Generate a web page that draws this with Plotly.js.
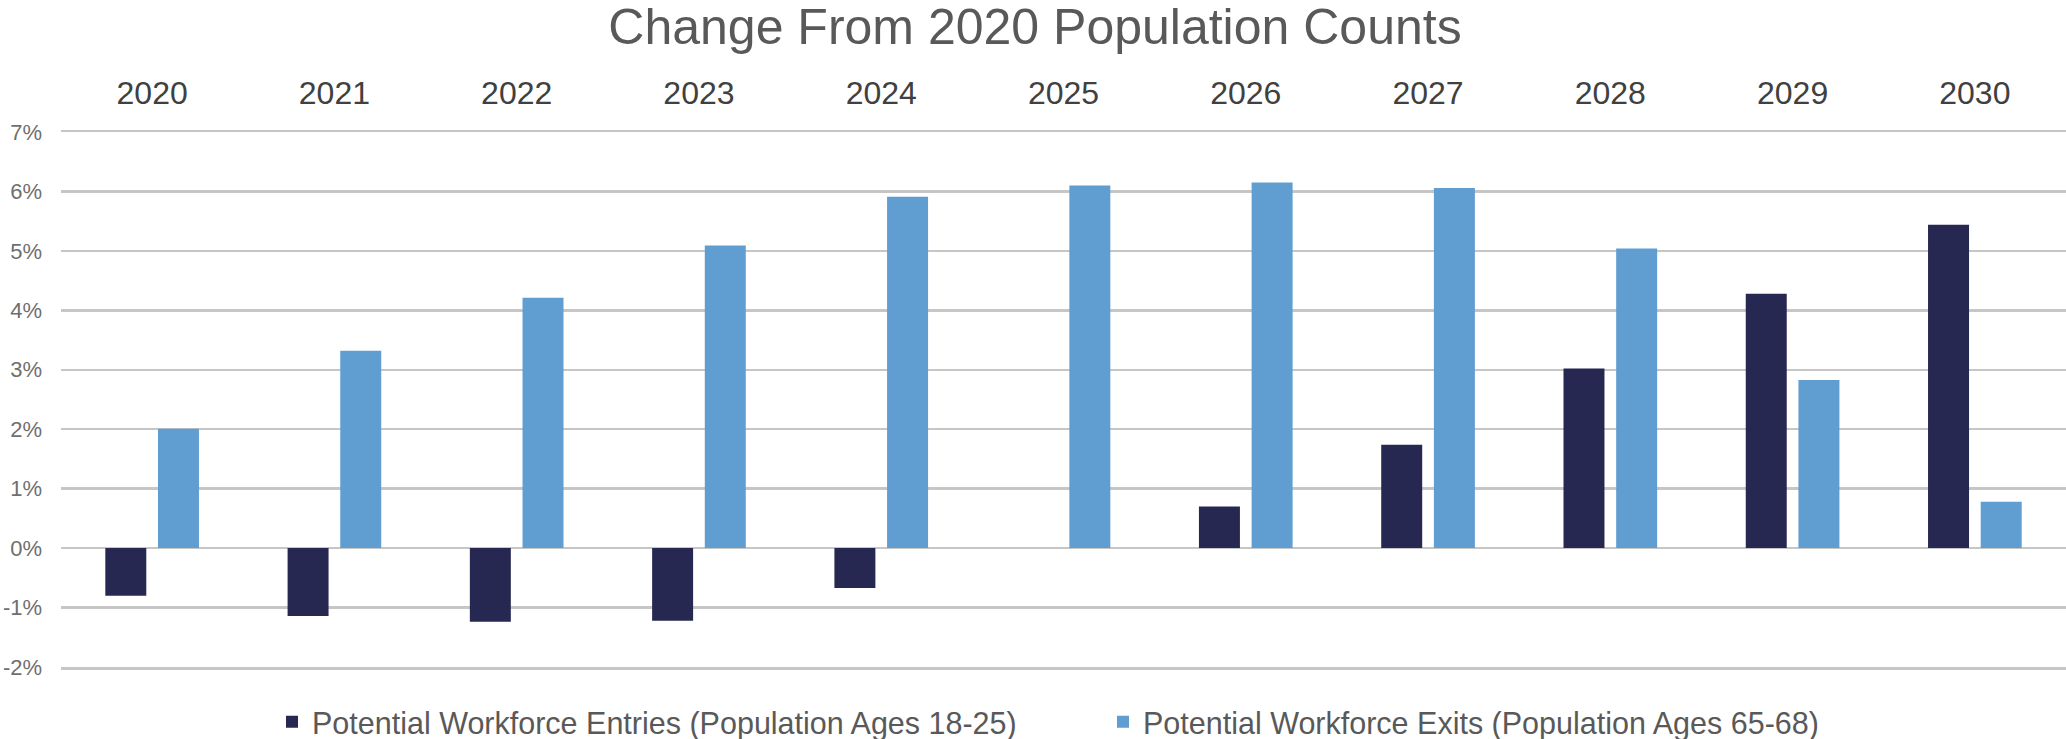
<!DOCTYPE html>
<html>
<head>
<meta charset="utf-8">
<script src="https://cdn.plot.ly/plotly-3.0.1.min.js"></script>
<style>
  html, body { margin: 0; padding: 0; background: #ffffff; }
  #chart { width: 2066px; height: 739px; }
</style>
</head>
<body>
<div id="chart"></div>
<script>
// ---- data ----
const years = ['2020', '2021', '2022', '2023', '2024', '2025', '2026', '2027', '2028', '2029', '2030'];
const entries = [-0.80, -1.14, -1.24, -1.22, -0.67, 0.00, 0.70, 1.74, 3.02, 4.28, 5.44];
const exits = [2.01, 3.32, 4.21, 5.09, 5.91, 6.10, 6.15, 6.06, 5.04, 2.83, 0.78];
const entriesName = 'Potential Workforce Entries (Population Ages 18-25)';
const exitsName = 'Potential Workforce Exits (Population Ages 65-68)';
const chartTitle = 'Change From 2020 Population Counts';
const yTickVals = [-2, -1, 0, 1, 2, 3, 4, 5, 6, 7];
const yTickText = ['-2%', '-1%', '0%', '1%', '2%', '3%', '4%', '5%', '6%', '7%'];

const FONT = 'Liberation Sans, Arial, sans-serif';
const GRID = '#c6c6c6';

const traces = [
  {
    type: 'bar', name: entriesName, x: years, y: entries,
    marker: { color: '#262852' },
    hoverinfo: 'skip'
  },
  {
    type: 'bar', name: exitsName, x: years, y: exits,
    marker: { color: '#609dd1' },
    hoverinfo: 'skip'
  }
];

const layout = {
  width: 2066, height: 739,
  paper_bgcolor: '#ffffff', plot_bgcolor: '#ffffff',
  margin: { l: 61, r: 0, t: 132, b: 72, pad: 0, autoexpand: false },
  font: { family: FONT, color: '#595959' },
  title: {
    text: chartTitle,
    font: { family: FONT, size: 50, color: '#595959' },
    xref: 'container', yref: 'container',
    x: 1035 / 2066, xanchor: 'center',
    y: 1 - 26 / 739, yanchor: 'middle'
  },
  barmode: 'group',
  bargap: 0.422,
  bargroupgap: 0.222,
  showlegend: true,
  legend: {
    orientation: 'h',
    xref: 'container', yref: 'container',
    x: 272 / 2066, xanchor: 'left',
    y: 1 - 722 / 739, yanchor: 'middle',
    font: { family: FONT, size: 30.5, color: '#595959' },
    entrywidth: 786,
    traceorder: 'normal'
  },
  xaxis: {
    type: 'category',
    side: 'top',
    showgrid: false, zeroline: false,
    showline: true, mirror: true, linecolor: GRID, linewidth: 2.5,
    ticks: '',
    tickfont: { family: FONT, size: 32, color: '#404040' },
    ticklabelstandoff: 13,
    automargin: false,
    fixedrange: true
  },
  yaxis: {
    range: [-2, 7],
    tickvals: yTickVals,
    ticktext: yTickText,
    showgrid: true, gridcolor: GRID, gridwidth: 2.5,
    zeroline: false, showline: false,
    ticks: '',
    tickfont: { family: FONT, size: 22, color: '#6f6f6f' },
    ticklabelstandoff: 18,
    automargin: false,
    fixedrange: true
  }
};

Plotly.newPlot('chart', traces, layout, { staticPlot: true, displayModeBar: false });
</script>
</body>
</html>
